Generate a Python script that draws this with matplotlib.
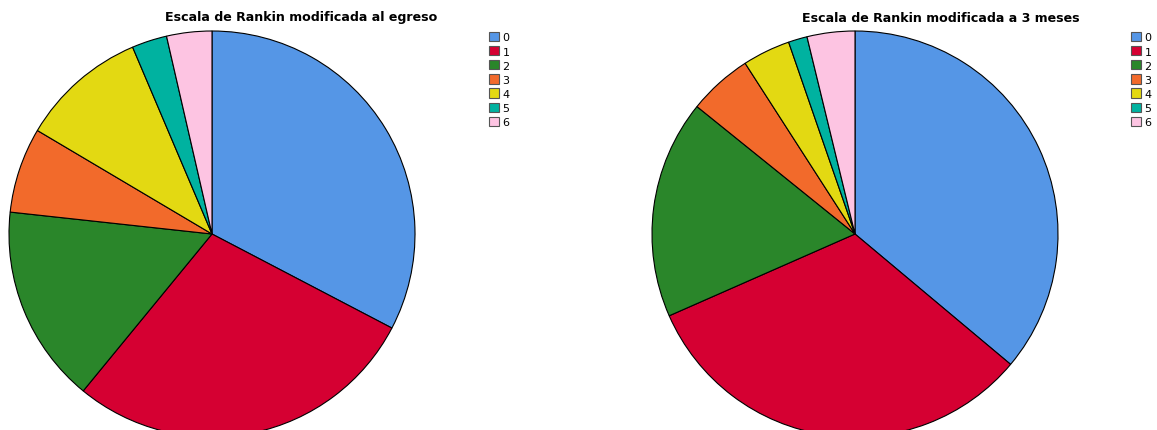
import matplotlib.pyplot as plt
from matplotlib.patches import Patch

categories = ['0', '1', '2', '3', '4', '5', '6']
egreso = [32.7, 28.3, 15.8, 6.8, 10.1, 2.8, 3.6]
meses3 = [36.1, 32.3, 17.4, 5.1, 3.8, 1.5, 3.8]
colors = ['#5596e6', '#d50032', '#2a862a', '#f26a2b', '#e3d912', '#00b2a0', '#fdc4e2']

W, H = 1157, 431
fig = plt.figure(figsize=(W / 100, H / 100), dpi=100)


def draw_pie(cx, cy, r, values, title, title_x, legend_x):
    # cx, cy in pixels from top-left
    ax = fig.add_axes([(cx - r) / W, (H - cy - r) / H, 2 * r / W, 2 * r / H])
    wedges, _ = ax.pie(values, colors=colors, startangle=90, counterclock=False,
                       wedgeprops=dict(edgecolor='black', linewidth=0.8))
    for w in wedges:
        w.set_clip_on(False)
    ax.set_xlim(-1, 1)
    ax.set_ylim(-1, 1)
    ax.set_aspect('auto')
    ax.axis('off')
    fig.text(title_x / W, 1 - 18 / H, title, ha='center', va='center',
             fontsize=9.1, fontweight='bold')
    handles = [Patch(facecolor=c, edgecolor='#555555', linewidth=0.8) for c in colors]
    fig.legend(handles, categories, loc='upper left',
               bbox_to_anchor=(legend_x / W, 1 - 33 / H), frameon=False,
               fontsize=8, handlelength=0.9, handleheight=0.9, handletextpad=0.3,
               labelspacing=0.33, borderpad=0, borderaxespad=0)


draw_pie(212, 235, 203, egreso, 'Escala de Rankin modificada al egreso', 301, 489)
draw_pie(855, 235, 203, meses3, 'Escala de Rankin modificada a 3 meses', 941, 1131)

fig.savefig('out.png', dpi=100)
